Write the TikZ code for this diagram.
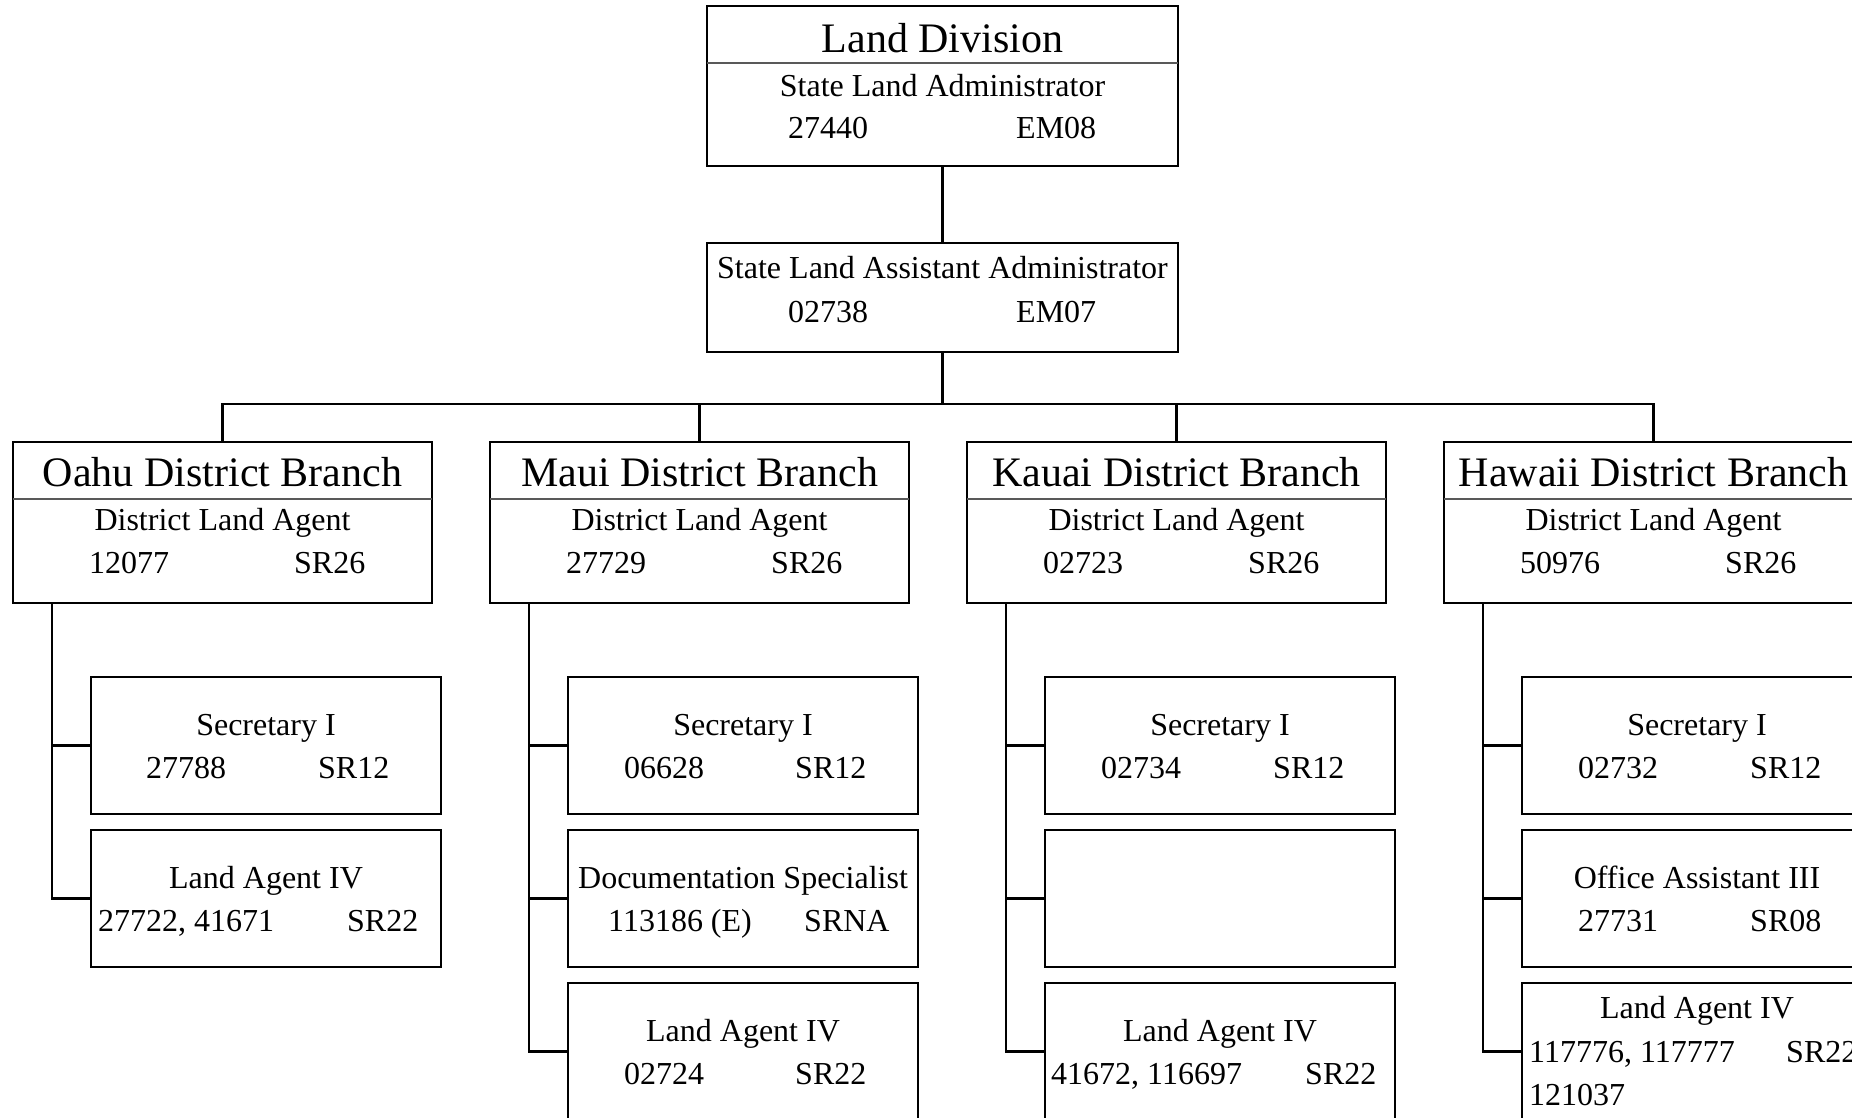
\documentclass[tikz,border=0pt]{standalone}
\usepackage{fontspec}
\setmainfont{Liberation Serif}
\usetikzlibrary{calc}
\tikzset{
  box/.style={draw, line width=2.6pt, rectangle, inner sep=0pt, outer sep=0pt, anchor=north west},
  txt/.style={inner sep=0pt, anchor=base, font=\fontsize{32}{38}\selectfont},
  txtl/.style={txt, anchor=base west},
  ttl/.style={inner sep=0pt, anchor=base, font=\fontsize{42}{50}\selectfont},
  link/.style={line width=2.6pt},
  divider/.style={line width=1.2pt, draw=black!65}
}
% #1 name, #2 left, #3 title, #4 left number, #5 grade
\newcommand{\branchbox}[5]{%
  \node[box, minimum width=419pt, minimum height=161pt] (#1) at (#2,442) {};
  \draw[divider] (#1.north west) ++(0,57) -- ++(419,0);
  \node[ttl] (#1t) at (#2+209.5,486) {#3};
  \node[txt] (#1r) at (#2+209.5,530) {District Land Agent};
  \node[txtl] (#1n) at (#2+76,573) {#4};
  \node[txtl] (#1g) at (#2+281,573) {#5};
}
% #1 name, #2 left, #3 top, #4 title, #5 number, #6 number offset, #7 grade, #8 grade offset
\newcommand{\childbox}[8]{%
  \node[box, minimum width=350pt, minimum height=137pt] (#1) at (#2,#3) {};
  \node[txt] (#1t) at (#2+175,#3+58) {#4};
  \node[txtl] (#1n) at (#2+#6,#3+101) {#5};
  \node[txtl] (#1g) at (#2+#8,#3+101) {#7};
}
\begin{document}
\begin{tikzpicture}[x=1pt,y=-1pt]
\useasboundingbox (0,0) rectangle (1852,1117);
\begin{scope}
\clip (0,0) rectangle (1852,1117);
% top
\node[box, minimum width=471pt, minimum height=160pt] (ld) at (707,6) {};
\draw[divider] (ld.north west) ++(0,57) -- ++(471,0);
\node[ttl] (ldt) at (942.5,52) {Land Division};
\node[txt] (ldr) at (942.5,96) {State Land Administrator};
\node[txtl] (ldn) at (788,138) {27440};
\node[txtl] (ldg) at (1016,138) {EM08};

\node[box, minimum width=471pt, minimum height=109pt] (asst) at (707,243) {};
\node[txt] (asstt) at (942.5,278) {State Land Assistant Administrator};
\node[txtl] (asstn) at (788,322) {02738};
\node[txtl] (asstg) at (1016,322) {EM07};

% branches
\branchbox{oahu}{13}{Oahu District Branch}{12077}{SR26}
\branchbox{maui}{490}{Maui District Branch}{27729}{SR26}
\branchbox{kauai}{967}{Kauai District Branch}{02723}{SR26}
\branchbox{hawaii}{1444}{Hawaii District Branch}{50976}{SR26}

% children
\childbox{oahuA}{91}{677}{Secretary I}{27788}{55}{SR12}{227}
\childbox{oahuB}{91}{830}{Land Agent IV}{27722, 41671}{7}{SR22}{256}

\childbox{mauiA}{568}{677}{Secretary I}{06628}{56}{SR12}{227}
\childbox{mauiB}{568}{830}{Documentation Specialist}{113186 (E)}{40}{SRNA}{236}
\childbox{mauiC}{568}{983}{Land Agent IV}{02724}{56}{SR22}{227}

\childbox{kauaiA}{1045}{677}{Secretary I}{02734}{56}{SR12}{228}
\node[box, minimum width=350pt, minimum height=137pt] (kauaiB) at (1045,830) {};
\childbox{kauaiC}{1045}{983}{Land Agent IV}{41672, 116697}{6}{SR22}{260}

\childbox{hawaiiA}{1522}{677}{Secretary I}{02732}{56}{SR12}{228}
\childbox{hawaiiB}{1522}{830}{Office Assistant III}{27731}{56}{SR08}{228}
\node[box, minimum width=350pt, minimum height=137pt] (hawaiiC) at (1522,983) {};
\node[txt] (hawaiiCt) at (1697,1018) {Land Agent IV};
\node[txtl] (hawaiiCn) at (1529,1062) {117776, 117777};
\node[txtl] (hawaiiCg) at (1786,1062) {SR22};
\node[txtl] (hawaiiCm) at (1529,1105) {121037};

% connectors
\draw[link] (ld) -- (asst);
\foreach \b in {oahu,maui,kauai,hawaii}
  \draw[link] (asst.south) -- ++(0,52) -| (\b.north);

\foreach \b in {oahu,maui,kauai,hawaii}
  \coordinate (\b trunk) at ($(\b.south west)+(39,0)$);
\draw[link] (oahutrunk) |- (oahuA.west);
\draw[link] (oahutrunk) |- (oahuB.west);
\draw[link] (mauitrunk) |- (mauiA.west);
\draw[link] (mauitrunk) |- (mauiB.west);
\draw[link] (mauitrunk) |- (mauiC.west);
\draw[link] (kauaitrunk) |- (kauaiA.west);
\draw[link] (kauaitrunk) |- (kauaiB.west);
\draw[link] (kauaitrunk) |- (kauaiC.west);
\draw[link] (hawaiitrunk) |- (hawaiiA.west);
\draw[link] (hawaiitrunk) |- (hawaiiB.west);
\draw[link] (hawaiitrunk) |- (hawaiiC.west);
\end{scope}
\end{tikzpicture}
\end{document}
